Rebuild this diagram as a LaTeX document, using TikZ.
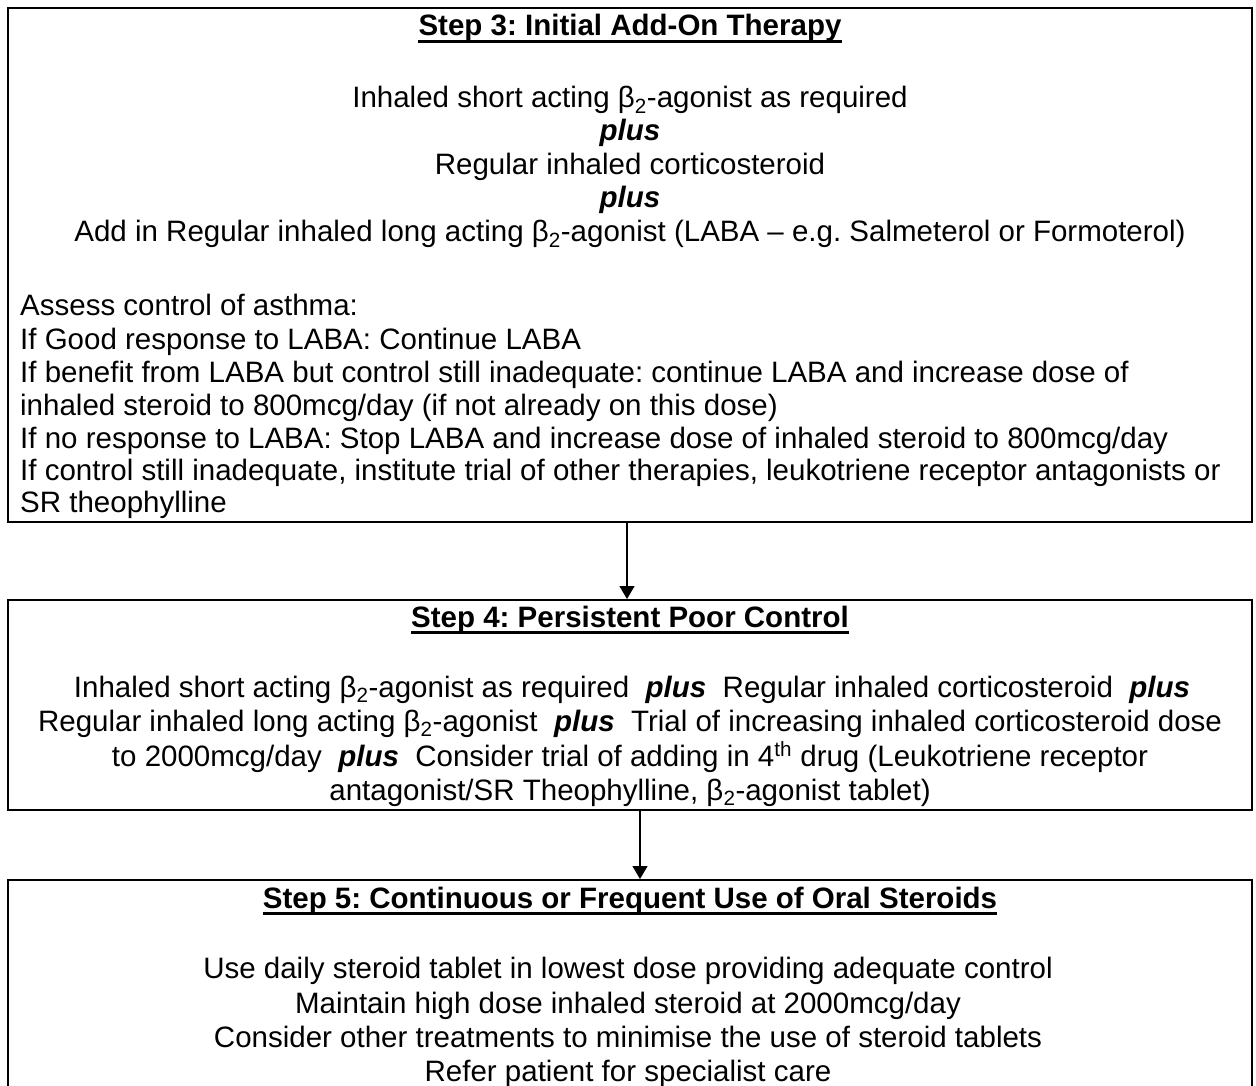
\documentclass[tikz,border=0pt]{standalone}
\usepackage{fontspec}
\setmainfont{Liberation Sans}
\usetikzlibrary{arrows.meta}
\newcommand{\bsub}{\textsubscript{2}}
\newcommand{\plusw}{\textbf{\textit{plus}}}
\frenchspacing
\begin{document}
\frenchspacing
\begin{tikzpicture}[x=1pt,y=-1pt,
  box/.style={draw=black, line width=2pt, rectangle, anchor=north west, inner sep=0pt, minimum width=1244pt},
  txt/.style={anchor=base, inner sep=0pt, font=\fontsize{29.5pt}{34pt}\selectfont},
  ltxt/.style={anchor=base west, inner sep=0pt, font=\fontsize{29.5pt}{34pt}\selectfont},
  ttl/.style={anchor=base, inner sep=0pt, font=\fontsize{29.5pt}{34pt}\selectfont\bfseries},
  uline/.style={line width=3.2pt},
  arr/.style={line width=1.3pt, -{Triangle[width=15pt,length=13pt]}}]
\useasboundingbox (0,0) rectangle (1256,1086);
\clip (0,0) rectangle (1256,1086);
\fill[white] (0,0) rectangle (1256,1086);

% boxes
\node[box, minimum height=514pt] (b1) at (7,7) {};
\node[box, minimum height=210pt] (b2) at (7,599) {};
\node[box, minimum height=260pt] (b3) at (7,879) {};

% box 1
\node[ttl] (t1) at (630,36) {Step 3: Initial Add-On Therapy};
\draw[uline] ([yshift=-5.5pt]t1.base west) -- ([yshift=-5.5pt]t1.base east);
\node[txt] (p1a) at (630,108) {Inhaled short acting β\bsub-agonist as required};
\node[txt] (p1b) at (630,141) {\plusw};
\node[txt] (p1c) at (630,175) {Regular inhaled corticosteroid};
\node[txt] (p1d) at (630,208) {\plusw};
\node[txt] (p1e) at (630,242) {Add in Regular inhaled long acting β\bsub-agonist (LABA – e.g. Salmeterol or Formoterol)};
\node[ltxt] (l1) at (20,316) {Assess control of asthma:};
\node[ltxt] (l2) at (20,349) {If Good response to LABA: Continue LABA};
\node[ltxt] (l3) at (20,382) {If benefit from LABA but control still inadequate: continue LABA and increase dose of};
\node[ltxt] (l4) at (20,415) {inhaled steroid to 800mcg/day (if not already on this dose)};
\node[ltxt] (l5) at (20,448) {If no response to LABA: Stop LABA and increase dose of inhaled steroid to 800mcg/day};
\node[ltxt] (l6) at (20,480) {If control still inadequate, institute trial of other therapies, leukotriene receptor antagonists or};
\node[ltxt] (l7) at (20,512) {SR theophylline};

% box 2
\node[ttl] (t2) at (630,627) {Step 4: Persistent Poor Control};
\draw[uline] ([yshift=-5.5pt]t2.base west) -- ([yshift=-5.5pt]t2.base east);
\node[txt] (q1) at (632,697) {Inhaled short acting β\bsub-agonist as required\ \ \plusw\ \ Regular inhaled corticosteroid\ \ \plusw};
\node[txt] (q2) at (630,731) {Regular inhaled long acting β\bsub-agonist\ \ \plusw\ \ Trial of increasing inhaled corticosteroid dose};
\node[txt] (q3) at (630,766) {to 2000mcg/day\ \ \plusw\ \ Consider trial of adding in 4\textsuperscript{th} drug (Leukotriene receptor};
\node[txt] (q4) at (630,800) {antagonist/SR Theophylline, β\bsub-agonist tablet)};

% box 3
\node[ttl] (t3) at (630,908) {Step 5: Continuous or Frequent Use of Oral Steroids};
\draw[uline] ([yshift=-5.5pt]t3.base west) -- ([yshift=-5.5pt]t3.base east);
\node[txt] (r1) at (628,978) {Use daily steroid tablet in lowest dose providing adequate control};
\node[txt] (r2) at (628,1013) {Maintain high dose inhaled steroid at 2000mcg/day};
\node[txt] (r3) at (628,1047) {Consider other treatments to minimise the use of steroid tablets};
\node[txt] (r4) at (628,1081) {Refer patient for specialist care};

% connectors
\coordinate (c1) at (627,0);
\coordinate (c2) at (640,0);
\draw[arr] (b1.south -| c1) -- (b2.north -| c1);
\draw[arr] (b2.south -| c2) -- (b3.north -| c2);
\end{tikzpicture}
\end{document}
